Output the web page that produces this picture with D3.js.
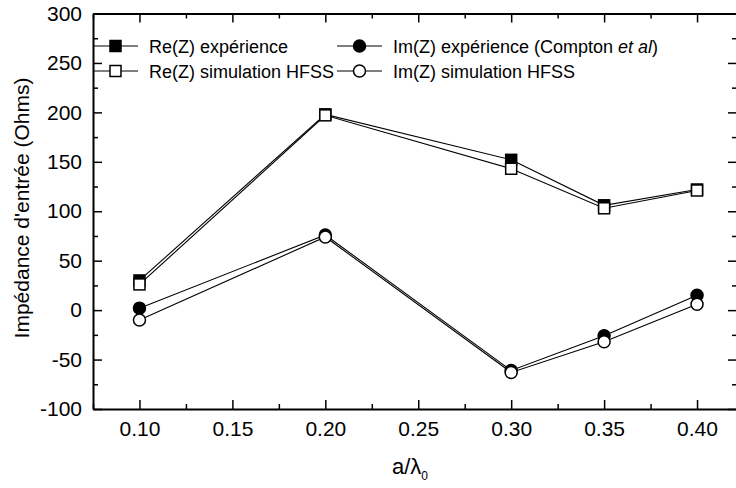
<!DOCTYPE html>
<html><head><meta charset="utf-8">
<script src="https://cdn.jsdelivr.net/npm/d3@7"></script>
<style>
html,body{margin:0;padding:0;background:#fff;}
svg{display:block;font-family:"Liberation Sans",Arial,sans-serif;}
</style></head>
<body>
<svg id="chart" width="736" height="488"></svg>
<script>
// Data
const xValues = [0.10, 0.20, 0.30, 0.35, 0.40];
const reExp = [30, 198, 152, 106, 122];
const reSim = [26, 197, 143, 103, 121];
const imExp = [2, 76, -61, -26, 15];
const imSim = [-10, 74, -63, -32, 6];
const xTickValues = [0.10, 0.15, 0.20, 0.25, 0.30, 0.35, 0.40];
const yTickValues = [-100, -50, 0, 50, 100, 150, 200, 250, 300];
const seriesNames = ["Re(Z) expérience", "Re(Z) simulation HFSS", "Im(Z) expérience (Compton ", "Im(Z) simulation HFSS"];

(function(){
const svg = d3.select("#chart");
const pLeft = 93, pRight = 737, pTop = 13.5, pBottom = 409;
const x = d3.scaleLinear().domain([0.075, 0.4215]).range([pLeft, pRight]);
const y = d3.scaleLinear().domain([-100, 300]).range([pBottom, pTop]);

const xMinor = d3.range(0.075, 0.42, 0.025).map(v => +v.toFixed(3)).filter(v => !xTickValues.some(t => Math.abs(t - v) < 1e-6));
const yMinor = d3.range(-75, 300, 50);

const g = svg.append("g");

function styleAxis(sel){
  sel.selectAll("path").attr("stroke","#000").attr("stroke-width",2);
  sel.selectAll(".tick line").attr("stroke","#000").attr("stroke-width",1.5);
  sel.selectAll("text").attr("fill","#000").style("font-size","21px").style("font-family","'Liberation Sans',Arial,sans-serif");
}
const fmt = d3.format(".2f");
g.append("g").attr("transform",`translate(0,${pBottom})`)
  .call(d3.axisBottom(x).tickValues(xTickValues).tickFormat(fmt).tickSizeInner(-9).tickSizeOuter(0).tickPadding(12))
  .call(styleAxis);
g.append("g").attr("transform",`translate(0,${pBottom})`)
  .call(d3.axisBottom(x).tickValues(xMinor).tickFormat("").tickSizeInner(-5).tickSizeOuter(0))
  .call(styleAxis).select("path").remove();
g.append("g").attr("transform",`translate(0,${pTop})`)
  .call(d3.axisTop(x).tickValues(xTickValues).tickFormat("").tickSizeInner(-9).tickSizeOuter(0))
  .call(styleAxis);
g.append("g").attr("transform",`translate(0,${pTop})`)
  .call(d3.axisTop(x).tickValues(xMinor).tickFormat("").tickSizeInner(-5).tickSizeOuter(0))
  .call(styleAxis).select("path").remove();
g.append("g").attr("transform",`translate(${pLeft},0)`)
  .call(d3.axisLeft(y).tickValues(yTickValues).tickFormat(d => String(d)).tickSizeInner(-9).tickSizeOuter(0).tickPadding(11))
  .call(styleAxis);
g.append("g").attr("transform",`translate(${pLeft},0)`)
  .call(d3.axisLeft(y).tickValues(yMinor).tickFormat("").tickSizeInner(-5).tickSizeOuter(0))
  .call(styleAxis).select("path").remove();
g.append("g").attr("transform",`translate(${pRight},0)`)
  .call(d3.axisRight(y).tickValues(yTickValues).tickFormat("").tickSizeInner(-9).tickSizeOuter(0))
  .call(styleAxis);
g.append("g").attr("transform",`translate(${pRight},0)`)
  .call(d3.axisRight(y).tickValues(yMinor).tickFormat("").tickSizeInner(-5).tickSizeOuter(0))
  .call(styleAxis).select("path").remove();

const series = [
  {vals: reExp, shape: "square", fill: "#000"},
  {vals: reSim, shape: "square", fill: "#fff"},
  {vals: imExp, shape: "circle", fill: "#000"},
  {vals: imSim, shape: "circle", fill: "#fff"}
];
const line = d3.line().x(d => x(d[0])).y(d => y(d[1]));
function drawMarker(sel, shape, fill, cx, cy){
  if (shape === "square") {
    sel.append("rect").attr("x", cx-5.5).attr("y", cy-5.5).attr("width",11).attr("height",11)
      .attr("fill", fill).attr("stroke","#000").attr("stroke-width",1.5);
  } else {
    sel.append("circle").attr("cx", cx).attr("cy", cy).attr("r",6)
      .attr("fill", fill).attr("stroke","#000").attr("stroke-width",1.5);
  }
}
const plot = svg.append("g");
series.forEach(s => {
  const pts = xValues.map((xv,i) => [xv, s.vals[i]]);
  plot.append("path").attr("d", line(pts)).attr("fill","none").attr("stroke","#000").attr("stroke-width",1.1);
});
series.forEach(s => {
  xValues.forEach((xv,i) => drawMarker(plot, s.shape, s.fill, x(xv), y(s.vals[i])));
});

const leg = svg.append("g").style("font-size","18px");
const legPos = [[93, 46],[93, 71],[337, 46],[337, 71]];
series.forEach((s, i) => {
  const [lx, ly] = legPos[i];
  leg.append("line").attr("x1", lx).attr("x2", lx+45).attr("y1", ly).attr("y2", ly).attr("stroke","#000").attr("stroke-width",1.1);
  drawMarker(leg, s.shape, s.fill, lx+22.5, ly);
  const t = leg.append("text").attr("x", lx+56).attr("y", ly+6.5).attr("fill","#000");
  t.append("tspan").text(seriesNames[i]);
  if (i === 2) {
    t.append("tspan").style("font-style","italic").text("et al");
    t.append("tspan").text(")");
  }
});

const xt = svg.append("text").attr("x", 410).attr("y", 474).attr("text-anchor","middle").style("font-size","22px").attr("fill","#000");
xt.append("tspan").text("a/λ");
xt.append("tspan").attr("dy", 6).style("font-size","12px").text("0");
svg.append("text").attr("transform","translate(29,208) rotate(-90)").attr("text-anchor","middle")
  .style("font-size","21px").attr("fill","#000").text("Impédance d'entrée (Ohms)");
})();
</script>
</body></html>
